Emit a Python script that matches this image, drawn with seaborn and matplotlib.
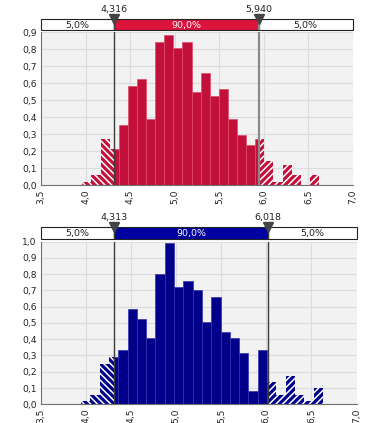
import numpy as np
import pandas as pd
import matplotlib
matplotlib.use("Agg")
import matplotlib.pyplot as plt
from matplotlib.patches import Rectangle
from matplotlib.ticker import FuncFormatter, MultipleLocator
import seaborn as sns

# ---- data -------------------------------------------------------------
x_range = (3.5, 7.0)
band_labels = ["5,0%", "90,0%", "5,0%"]

# upper histogram (red)
red_bin_start = 3.964
red_bin_width = 0.1021
red_density = [0.02, 0.06, 0.27, 0.21, 0.355, 0.585, 0.625, 0.39, 0.84, 0.88,
               0.805, 0.84, 0.545, 0.66, 0.525, 0.565, 0.39, 0.295, 0.236, 0.27,
               0.14, 0.02, 0.12, 0.06, 0.0, 0.06]
red_limits = (4.316, 5.940)
red_ymax = 0.9

# lower histogram (blue)
blue_bin_start = 3.944
blue_bin_width = 0.1032
blue_density = [0.02, 0.06, 0.25, 0.29, 0.334, 0.586, 0.525, 0.406, 0.80, 0.99,
                0.72, 0.758, 0.70, 0.505, 0.66, 0.447, 0.406, 0.314, 0.082, 0.334,
                0.139, 0.06, 0.176, 0.06, 0.02, 0.10]
blue_limits = (4.313, 6.018)
blue_ymax = 1.0

# ---- style ------------------------------------------------------------
sns.set_theme(style="whitegrid")
plt.rcParams["font.family"] = ["DejaVu Sans"]
plt.rcParams["hatch.linewidth"] = 1.1

fig = plt.figure(figsize=(3.68, 4.23), dpi=100)
W, H = 368.0, 423.0


def comma(v, _):
    return f"{v:.1f}".replace(".", ",")


def frac_rect(left, top, right, bottom):
    return [left / W, 1 - bottom / H, (right - left) / W, (bottom - top) / H]


def panel(plot_px, band_px, start, width, dens, limits, ymax,
          bar_color, edge_color, band_color, line_colors, line_widths):
    ax = fig.add_axes(frac_rect(*plot_px))
    band = fig.add_axes(frac_rect(*band_px))

    edges = start + width * np.arange(len(dens) + 1)
    table = pd.DataFrame({"value": (edges[:-1] + edges[1:]) / 2,
                          "density": dens})
    bins = [float(e) for e in edges]

    # solid bars inside the central interval
    n0 = len(ax.patches)
    sns.histplot(data=table, x="value", weights="density", bins=bins, ax=ax,
                 color=bar_color, alpha=1, edgecolor=edge_color, linewidth=0.5,
                 zorder=2)
    mid_clip = Rectangle((limits[0], 0), limits[1] - limits[0], ymax * 2,
                         transform=ax.transData)
    for p in ax.patches[n0:]:
        p.set_clip_path(mid_clip)

    # hatched bars in the two tails
    for lo, hi, hatch in [(x_range[0], limits[0], "\\\\\\\\\\"),
                          (limits[1], x_range[1], "/////")]:
        n0 = len(ax.patches)
        sns.histplot(data=table, x="value", weights="density", bins=bins, ax=ax,
                     color=bar_color, alpha=1, edgecolor="white", linewidth=0,
                     hatch=hatch, zorder=2)
        clip = Rectangle((lo, 0), hi - lo, ymax * 2, transform=ax.transData)
        for p in ax.patches[n0:]:
            p.set_clip_path(clip)

    ax.set_xlim(*x_range)
    ax.set_ylim(0, ymax)
    ax.set_facecolor("#F2F2F2")
    ax.grid(True, color="#DCDCDC", linewidth=0.8)
    ax.set_axisbelow(True)
    ax.xaxis.set_major_locator(MultipleLocator(0.5))
    ax.yaxis.set_major_locator(MultipleLocator(0.1))
    ax.xaxis.set_major_formatter(FuncFormatter(comma))
    ax.yaxis.set_major_formatter(FuncFormatter(comma))
    ax.set_xlabel("")
    ax.set_ylabel("")
    for s in ["top", "right"]:
        ax.spines[s].set_visible(False)
    for s in ["left", "bottom"]:
        ax.spines[s].set_color("#707070")
        ax.spines[s].set_linewidth(0.8)
    ax.tick_params(axis="both", length=2, width=0.6, color="#707070",
                   labelsize=6.6, labelcolor="#222222", pad=1)
    ax.tick_params(axis="x", rotation=90)

    # percentile band above the plot
    band.set_xlim(*x_range)
    band.set_ylim(0, 1)
    band.axis("off")
    spans = [(x_range[0], limits[0], "white", "#222222"),
             (limits[0], limits[1], band_color, "white"),
             (limits[1], x_range[1], "white", "#222222")]
    for (a, b, fc, tc), lab in zip(spans, band_labels):
        band.add_patch(Rectangle((a, 0), b - a, 1, facecolor=fc,
                                 edgecolor="#222222", linewidth=0.8, clip_on=False))
        band.text((a + b) / 2, 0.45, lab, ha="center", va="center",
                  fontsize=6.8, color=tc)

    for p, lc, lw in zip(limits, line_colors, line_widths):
        ax.axvline(p, color=lc, linewidth=lw, zorder=5)
        band.axvline(p, color=lc, linewidth=lw, zorder=5)
        band.plot([p], [1], marker="v", markersize=6.5, color="#444444",
                  clip_on=False, zorder=6)
        band.annotate(f"{p:.3f}".replace(".", ","), xy=(p, 1), xytext=(0, 3.5),
                      textcoords="offset points", ha="center", va="bottom",
                      fontsize=6.8, color="#222222", annotation_clip=False)
    return ax


panel((41, 32, 353, 185), (41, 19.3, 353, 30.5),
      red_bin_start, red_bin_width, red_density, red_limits, red_ymax,
      bar_color="#C3103A", edge_color="#E04A68", band_color="#DC143C",
      line_colors=("#3C3C3C", "#8A8A8A"), line_widths=(1.0, 1.6))

panel((41, 241.5, 356.5, 404.3), (41, 226.7, 356.5, 239.3),
      blue_bin_start, blue_bin_width, blue_density, blue_limits, blue_ymax,
      bar_color="#00008A", edge_color="#3434B0", band_color="#0000A0",
      line_colors=("#3C3C3C", "#3C3C3C"), line_widths=(1.0, 1.0))

fig.savefig("out.png", dpi=100)
